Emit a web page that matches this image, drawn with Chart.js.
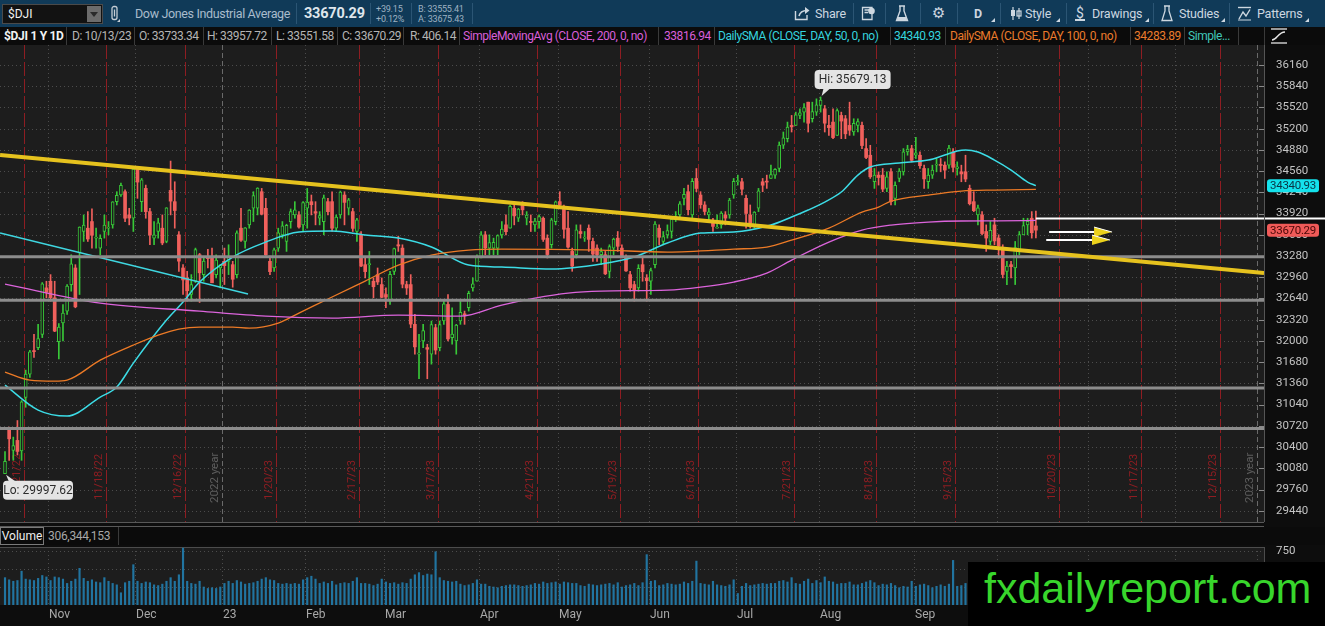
<!DOCTYPE html>
<html lang="en">
<head>
<meta charset="UTF-8">
<meta name="viewport" content="width=device-width, initial-scale=1.0">
<title>$DJI 1 Y 1D</title>
<script src="https://cdn.jsdelivr.net/npm/chart.js"></script>
<style>
    html, body { margin: 0; padding: 0; }
    body {
        width: 1325px; height: 626px; overflow: hidden; position: relative;
        background: #0d0d0d; font-family: Roboto, 'Noto Sans', sans-serif; color: #b4b4b4;
    }
    .abs { position: absolute; white-space: nowrap; }
    #toolbar { position: absolute; left: 0; top: 0; width: 1325px; height: 27px; background: #103a58; }
    #toolbar .tb { top: 0; line-height: 27px; font-size: 12.5px; color: #a9bccc; letter-spacing: -0.35px; }
    #toolbar .btn { top: 0; line-height: 27px; font-size: 12.5px; color: #cdd7e0; letter-spacing: -0.2px; }
    #toolbar .sm { font-size: 9px; line-height: 10px; color: #9fb2c2; letter-spacing: -0.2px; }
    .tsep { position: absolute; top: 3px; width: 1px; height: 21px; background: #2b5574; }
    .tri { position: absolute; width: 0; height: 0; border-left: 4px solid transparent; border-bottom: 4px solid #cdd7e0; }
    .sym { position: absolute; left: 2px; top: 4px; width: 99px; height: 18px; background: #121212; border: 1px solid #4a4a4a; }
    .sym span { position: absolute; left: 5px; top: 0; line-height: 18px; font-size: 12px; color: #f0f0f0; }
    .dd { position: absolute; left: 84px; top: 1px; width: 14px; height: 16px; background: #6c6c6c; }
    .ddt { position: absolute; left: 3px; top: 6px; width: 0; height: 0; border-left: 4px solid transparent; border-right: 4px solid transparent; border-top: 5px solid #2a2a2a; }
    #info { position: absolute; left: 0; top: 27px; width: 1325px; height: 18px; background: #0b0b0b;
            font-size: 12px; letter-spacing: -0.45px; line-height: 18px; }
    #info span { position: absolute; top: 0; white-space: nowrap; }
    .sep { position: absolute; top: 0; width: 1px; height: 18px; background: #3a3a3a; }
    #pwrap { position: absolute; left: 0; top: 45px; width: 1325px; height: 477px; }
    #vwrap { position: absolute; left: 0; top: 545px; width: 1325px; height: 81px; }
    .hl { position: absolute; left: 0; width: 1264px; height: 1px; background: #585858; }
    #vhead { position: absolute; left: 0; top: 527px; width: 1325px; height: 18px; background: #0b0b0b; font-size: 12px; line-height: 18px; }
    #mark { position: absolute; left: 968px; top: 562px; width: 357px; height: 64px; background: #000; }
    #mark span { position: absolute; left: 16px; top: 5px; font-family: 'Liberation Sans', Arial, sans-serif;
                 font-size: 43px; line-height: 43px; color: #38d62c; white-space: nowrap; }
</style>
</head>
<body>

<div id="toolbar">
    <div class="sym"><span>$DJI</span><div class="dd"><div class="ddt"></div></div></div>
    <svg class="abs" style="left:109px;top:5px" width="12" height="18" viewBox="0 0 12 18">
        <rect x="3" y="1.5" width="5" height="13" rx="2" fill="none" stroke="#c4ccd4" stroke-width="1.3"/>
        <line x1="5.5" y1="4.5" x2="5.5" y2="11.5" stroke="#c4ccd4" stroke-width="1.3"/>
        <path d="M8 17 l3 -3 v3z" fill="#c4ccd4"/>
    </svg>
    <span class="abs tb" style="left:135px">Dow Jones Industrial Average</span>
    <div class="tsep" style="left:296px"></div>
    <span class="abs" style="left:304px;top:0;line-height:27px;font-size:14.5px;font-weight:bold;color:#dfe6ec;letter-spacing:-0.2px">33670.29</span>
    <div class="tsep" style="left:370px"></div>
    <span class="abs sm" style="left:376px;top:4px">+39.15</span>
    <span class="abs sm" style="left:376px;top:14px">+0.12%</span>
    <div class="tsep" style="left:411px"></div>
    <span class="abs sm" style="left:418px;top:4px">B: 33555.41</span>
    <span class="abs sm" style="left:418px;top:14px">A: 33675.43</span>
    <div class="tsep" style="left:472px"></div>

    <svg class="abs" style="left:794px;top:6px" width="17" height="15" viewBox="0 0 17 15">
        <path d="M1.5 5 V13.5 H13 V9" fill="none" stroke="#cdd7e0" stroke-width="1.4"/>
        <path d="M5 10 C6 6 9 4.5 13 4.5" fill="none" stroke="#cdd7e0" stroke-width="1.6"/>
        <path d="M11 1 L15.5 4.5 L11 8z" fill="#cdd7e0"/>
    </svg>
    <span class="abs btn" style="left:815px">Share</span>
    <div class="tsep" style="left:853px"></div>
    <svg class="abs" style="left:861px;top:6px" width="15" height="15" viewBox="0 0 15 15">
        <path d="M1.5 1.5 H11 V13.5 H1.5z M3.5 4 H8 M3.5 6.5 H7" fill="none" stroke="#cdd7e0" stroke-width="1.3"/>
        <circle cx="10.5" cy="5" r="3.3" fill="#cdd7e0"/>
    </svg>
    <div class="tsep" style="left:885px"></div>
    <svg class="abs" style="left:895px;top:5px" width="14" height="17" viewBox="0 0 14 17">
        <path d="M5 1 V6 L1.5 15.5 H12.5 L9 6 V1 M4 1 H10" fill="none" stroke="#cdd7e0" stroke-width="1.4"/>
        <path d="M3 12 H11 L12 15 H2z" fill="#cdd7e0"/>
    </svg>
    <div class="tsep" style="left:920px"></div>
    <span class="abs" style="left:932px;top:0;line-height:27px;font-size:15px;color:#cdd7e0;font-family:'DejaVu Sans'">&#9881;</span>
    <div class="tsep" style="left:957px"></div>
    <span class="abs btn" style="left:974px;font-weight:bold">D</span>
    <div class="tri" style="left:991px;top:18px"></div>
    <div class="tsep" style="left:1000px"></div>
    <svg class="abs" style="left:1010px;top:6px" width="12" height="15" viewBox="0 0 12 15">
        <path d="M3 1 V14 M9 2 V13" stroke="#cdd7e0" stroke-width="1.2"/>
        <rect x="1" y="4" width="4" height="6" fill="#cdd7e0"/>
        <rect x="7" y="5" width="4" height="5" fill="none" stroke="#cdd7e0" stroke-width="1.2"/>
    </svg>
    <span class="abs btn" style="left:1025px">Style</span>
    <div class="tri" style="left:1056px;top:18px"></div>
    <div class="tsep" style="left:1066px"></div>
    <span class="abs btn" style="left:1076px;font-size:14px">$</span>
    <div class="abs" style="left:1075px;top:19px;width:10px;height:1.5px;background:#cdd7e0"></div>
    <span class="abs btn" style="left:1092px">Drawings</span>
    <div class="tri" style="left:1145px;top:18px"></div>
    <div class="tsep" style="left:1153px"></div>
    <svg class="abs" style="left:1161px;top:5px" width="12" height="17" viewBox="0 0 12 17">
        <path d="M4 1 V6 L1 15.5 H11 L8 6 V1 M3 1 H9" fill="none" stroke="#cdd7e0" stroke-width="1.3"/>
    </svg>
    <span class="abs btn" style="left:1179px">Studies</span>
    <div class="tri" style="left:1221px;top:18px"></div>
    <div class="tsep" style="left:1229px"></div>
    <svg class="abs" style="left:1237px;top:6px" width="15" height="15" viewBox="0 0 15 15">
        <path d="M1 1.5 H14" stroke="#cdd7e0" stroke-width="1.4"/>
        <path d="M2 13 L6 6 L9 10 L13 3.5" fill="none" stroke="#cdd7e0" stroke-width="1.4"/>
        <path d="M1 14 H14" stroke="#cdd7e0" stroke-width="1"/>
    </svg>
    <span class="abs btn" style="left:1257px">Patterns</span>
    <div class="tri" style="left:1305px;top:18px"></div>
</div>

<div id="info">
    <span style="left:4px;color:#f2f2f2;font-weight:bold;letter-spacing:-0.3px">$DJI 1 Y 1D</span>
    <div class="sep" style="left:66px"></div>
    <span style="left:72px">D: 10/13/23</span>
    <div class="sep" style="left:134px"></div>
    <span style="left:139px">O: 33733.34</span>
    <div class="sep" style="left:203px"></div>
    <span style="left:207px">H: 33957.72</span>
    <div class="sep" style="left:271px"></div>
    <span style="left:276px">L: 33551.58</span>
    <div class="sep" style="left:337px"></div>
    <span style="left:342px">C: 33670.29</span>
    <div class="sep" style="left:403px"></div>
    <span style="left:410px">R: 406.14</span>
    <div class="sep" style="left:459px"></div>
    <span style="left:463px;color:#d95fd9">SimpleMovingAvg (CLOSE, 200, 0, no)</span>
    <div class="sep" style="left:658px"></div>
    <span style="left:664px;color:#d95fd9">33816.94</span>
    <div class="sep" style="left:714px"></div>
    <span style="left:718px;color:#35d3df">DailySMA (CLOSE, DAY, 50, 0, no)</span>
    <div class="sep" style="left:890px"></div>
    <span style="left:894px;color:#35d3df">34340.93</span>
    <div class="sep" style="left:945px"></div>
    <span style="left:950px;color:#ea7b2c">DailySMA (CLOSE, DAY, 100, 0, no)</span>
    <div class="sep" style="left:1130px"></div>
    <span style="left:1134px;color:#ea7b2c">34283.89</span>
    <div class="sep" style="left:1184px"></div>
    <span style="left:1188px;color:#41c7b9">Simple...</span>
    <div class="sep" style="left:1238px"></div>
    <div class="sep" style="left:1264px"></div>
    <svg class="abs" style="left:1270px;top:1px" width="18" height="16" viewBox="0 0 18 16">
        <path d="M1 1 H17" stroke="#e6e6e6" stroke-width="1.3"/>
        <path d="M2 12 C7 12 8 4 15 4" fill="none" stroke="#e6e6e6" stroke-width="1.4"/>
        <path d="M1 15 H17" stroke="#e6e6e6" stroke-width="1.3"/>
    </svg>
</div>

<div id="pwrap"><canvas id="priceChart" width="1325" height="477"></canvas></div>
<div class="hl" style="top:522px"></div>
<div class="hl" style="top:526px"></div>
<div id="vhead">
    <span class="abs" style="left:0;top:0;width:42px;height:16px;border:1px solid #7a7a7a;line-height:16px;text-align:center;color:#eeeeee">Volume</span>
    <span class="abs" style="left:48px;top:0;color:#a8a8a8;letter-spacing:-0.3px">306,344,153</span>
    <div class="sep" style="left:118px"></div>
</div>
<div id="vwrap"><canvas id="volChart" width="1325" height="81"></canvas></div>
<div id="mark"><span>fxdailyreport.com</span></div>

<script>
    // Daily candles, $DJI, 10/17/22 .. 10/13/23
    const openP = [
        30000, 30680, 30350, 30500, 30340, 31150, 31500, 31850, 31900, 32100, 32800,
        32900, 32650, 31990, 32270, 32450, 32850, 33100, 33330, 33650, 33700, 33800, 33550, 33400, 33650, 33700, 33750, 34100, 34200, 34250, 33900, 33850,
        34600, 34100, 34300, 33950, 33550, 33650, 33700, 33500, 34270, 34100, 33600, 33100, 32950, 32700, 32900, 33300, 33000, 33250, 33270, 33000, 33100,
        33200, 33200, 33150, 33000, 33700, 33500, 33750, 34000, 34000, 34250, 34000, 33200, 33100, 33400, 33600, 33500, 33800, 33900, 33900, 33750,
        34000, 34100, 33950, 33850, 33800, 34100, 34100, 33700, 33900, 34200, 34000, 33950, 33650, 33600, 33150, 33150, 32900, 33000, 32850,
        32700, 32600, 33050, 33450, 33400, 32850, 32850, 32250, 31800, 32000, 31900, 31800, 32200, 31900, 32300, 32550, 32050, 32000, 32300, 32400, 32500, 32800, 32900,
        33250, 33600, 33400, 33400, 33400, 33600, 33750, 33700, 34000, 33850, 34050, 33850, 33800, 33750, 33800, 33850, 33550, 33450, 33800,
        34100, 34000, 33700, 33350, 33300, 33650, 33550, 33700, 33500, 33400, 33300, 33300, 33050, 33400, 33550, 33400, 33250, 33000, 32850, 32800, 33150, 32950,
        32900, 33150, 33700, 33500, 33600, 33650, 33850, 33900, 34150, 34250, 33900, 34450, 34200, 34050, 33900, 33800, 33700, 33750, 33900, 33900, 34200,
        34400, 34400, 34150, 33900, 33750, 34000, 34400, 34400, 34450, 34500, 34600, 34950, 35050, 35250, 35250, 35400, 35450, 35600, 35350, 35450,
        35550, 35500, 35250, 35300, 35100, 35400, 35350, 35250, 35150, 35250, 35250, 34900, 34800, 34400, 34500, 34500, 34300, 34550, 34150, 34450, 34550, 34850, 34900,
        34800, 34800, 34600, 34400, 34500, 34650, 34650, 34650, 34650, 34850, 34600, 34550, 34550, 34300, 34100, 33900, 33900, 33650, 33500, 33750,
        33550, 33400, 33050, 33150, 33100, 33350, 33600, 33750, 33850, 33733.34
    ];
    const highP = [
        30330, 30700, 30550, 30800, 31100, 31560, 31860, 32100, 32250, 32880, 32900,
        33000, 32900, 32260, 32550, 32850, 33300, 33150, 33720, 33900, 33950, 33990, 33700, 33600, 33900, 33800, 34100, 34250, 34380, 34280, 34000, 34600,
        34600, 34450, 34350, 34000, 33800, 33850, 33900, 34010, 34712, 34400, 33650, 33150, 33050, 33000, 33400, 33320, 33250, 33380, 33400, 33300, 33150,
        33400, 33450, 33200, 33660, 34000, 33710, 33980, 34250, 34310, 34300, 34150, 33280, 33400, 33700, 33800, 33760, 33990, 34100, 33950, 34100,
        34300, 34200, 34100, 33950, 34200, 34150, 34250, 33900, 34260, 34250, 34150, 34000, 33850, 33650, 33250, 33350, 32950, 33100, 32950,
        32800, 33050, 33400, 33580, 33450, 32900, 33000, 32400, 32100, 32250, 31950, 32300, 32250, 32300, 32600, 32700, 32500, 32250, 32600, 32450, 32750, 32950, 33300,
        33650, 33650, 33600, 33550, 33600, 33800, 33900, 34050, 34100, 34000, 34100, 33950, 33900, 33850, 33900, 33870, 33600, 33850, 34110,
        34250, 34050, 33950, 33400, 33750, 33750, 33650, 33750, 33550, 33450, 33400, 33350, 33450, 33550, 33650, 33450, 33300, 33050, 32900, 33150, 33250, 33000,
        33100, 33800, 33750, 33650, 33750, 33850, 33950, 34100, 34300, 34350, 34450, 34600, 34250, 34100, 34000, 33850, 33900, 33950, 33950, 34150, 34450,
        34500, 34450, 34200, 34050, 33950, 34300, 34450, 34500, 34650, 34600, 35000, 35150, 35300, 35400, 35450, 35500, 35580, 35600, 35600, 35650,
        35679.13, 35550, 35400, 35500, 35500, 35450, 35400, 35600, 35350, 35350, 35300, 35050, 34950, 34600, 34550, 34600, 34550, 34600, 34400, 34600, 34900, 34950, 34950,
        35070, 34850, 34650, 34600, 34650, 34750, 34750, 34700, 34950, 34900, 34700, 34650, 34800, 34350, 34250, 34050, 33950, 33750, 33800, 33850,
        33600, 33450, 33200, 33200, 33500, 33650, 33850, 33850, 33950, 33957.72
    ];
    const lowP = [
        29997.62, 30200, 30200, 30280, 30200, 31000, 31450, 31750, 31870, 32050, 32650,
        32600, 32140, 31730, 32000, 32400, 32750, 32500, 32700, 33500, 33500, 33400, 33400, 33300, 33550, 33600, 33700, 34050, 34180, 33800, 33750, 33650,
        34150, 33950, 33850, 33450, 33450, 33550, 33450, 33480, 33900, 33700, 33050, 32700, 32600, 32600, 32880, 32580, 32900, 33100, 32880, 32950, 32800,
        32850, 33000, 32810, 32950, 33500, 33400, 33700, 33800, 33900, 33900, 33290, 33000, 33050, 33350, 33550, 33350, 33700, 33850, 33700, 33650,
        33700, 33900, 33750, 33750, 33600, 33900, 33650, 33650, 33850, 33750, 33900, 33650, 33500, 33120, 32950, 32850, 32650, 32850, 32650,
        32500, 32550, 33000, 33350, 32800, 32700, 32200, 31800, 31430, 31900, 31430, 31650, 31800, 31850, 32250, 32000, 31950, 31800, 32250, 32250, 32450, 32750, 32900,
        33250, 33300, 33300, 33300, 33300, 33550, 33600, 33700, 33750, 33800, 33900, 33750, 33650, 33650, 33700, 33500, 33250, 33400, 33750,
        34000, 33550, 33400, 33050, 33250, 33550, 33500, 33350, 33200, 33200, 33150, 33000, 32950, 33300, 33350, 33250, 33050, 32750, 32600, 32750, 32900, 32600,
        32700, 33100, 33450, 33450, 33550, 33550, 33800, 33850, 34050, 33900, 33850, 34250, 34000, 33900, 33800, 33650, 33700, 33700, 33750, 33850, 34150,
        34350, 34200, 33700, 33700, 33700, 33950, 34250, 34300, 34450, 34450, 34550, 34900, 35000, 35150, 35250, 35350, 35300, 35150, 35300, 35400,
        35450, 35150, 35100, 35050, 35100, 35050, 35050, 35100, 35100, 35150, 34900, 34750, 34450, 34300, 34350, 34250, 34250, 34050, 34050, 34400, 34500, 34800, 34700,
        34750, 34600, 34300, 34300, 34450, 34550, 34550, 34450, 34600, 34550, 34500, 34400, 34400, 34050, 33950, 33750, 33600, 33350, 33450, 33450,
        33250, 32950, 32850, 32950, 32850, 33300, 33600, 33600, 33550, 33551.58
    ];
    const closeP = [
        30186, 30524, 30424, 30334, 31083, 31500, 31837, 31839, 32034, 32861, 32733,
        32653, 32148, 32210, 32420, 32827, 33161, 32514, 33716, 33748, 33537, 33593, 33554, 33547, 33746, 33700, 34098, 34195, 34347, 33850, 33853, 34590,
        34395, 34430, 33948, 33597, 33598, 33781, 33477, 34006, 34108, 33966, 33203, 32920, 32757, 32850, 33377, 33027, 33204, 33241, 32876, 33221, 33147,
        33136, 33270, 32930, 33631, 33518, 33704, 33974, 34190, 34303, 33911, 33297, 33045, 33375, 33630, 33734, 33744, 33950, 33978, 33717, 34086,
        34093, 34054, 33926, 33891, 34156, 33949, 33699, 33869, 34246, 34089, 34128, 33697, 33827, 33130, 33045, 33154, 32817, 32889, 32657,
        32662, 33004, 33391, 33432, 32856, 32798, 32254, 31910, 31819, 32155, 31875, 32247, 31862, 32245, 32560, 32030, 32105, 32238, 32432, 32394, 32717, 32860, 33274,
        33601, 33403, 33483, 33485, 33587, 33685, 33647, 34030, 33886, 33988, 33977, 33897, 33787, 33809, 33876, 33531, 33302, 33826, 34098,
        34052, 33684, 33415, 33128, 33674, 33619, 33562, 33531, 33309, 33301, 33349, 33012, 33421, 33536, 33427, 33286, 33056, 32800, 32765, 33093, 33043, 32908,
        33061, 33763, 33563, 33573, 33665, 33834, 33877, 34066, 34212, 33979, 34408, 34299, 34054, 33952, 33947, 33727, 33714, 33927, 33852, 34122, 34408,
        34418, 34288, 33922, 33735, 33944, 34262, 34348, 34395, 34509, 34586, 34952, 35061, 35225, 35228, 35411, 35438, 35520, 35282, 35459, 35560,
        35630, 35283, 35216, 35066, 35474, 35315, 35123, 35177, 35281, 35308, 34946, 34766, 34475, 34501, 34464, 34289, 34473, 34100, 34347, 34560, 34853, 34891, 34722,
        34838, 34642, 34443, 34501, 34577, 34664, 34646, 34576, 34907, 34618, 34625, 34518, 34441, 34070, 33964, 34007, 33619, 33551, 33667, 33508,
        33433, 33002, 33129, 33120, 33408, 33605, 33739, 33804, 33631, 33670.29
    ];
    // Volume, millions of shares
    const volume = [
        380, 350, 330, 340, 470, 360, 350, 340, 370, 410, 390,
        340, 390, 380, 360, 300, 330, 360, 510, 370, 330, 350, 320, 310, 380, 330, 300, 280, 170, 310, 330, 560,
        330, 300, 320, 310, 280, 270, 290, 330, 380, 330, 420, 790, 330, 300, 290, 330, 250, 230, 240, 230, 250,
        300, 330, 300, 340, 320, 290, 300, 310, 330, 360, 380, 350, 340, 300, 290, 300, 290, 300, 290, 350,
        380, 400, 360, 300, 320, 300, 330, 280, 300, 310, 300, 330, 380, 300, 300, 290, 270, 290, 360,
        320, 300, 310, 290, 310, 300, 360, 420, 450, 410, 430, 420, 740, 380, 340, 330, 320, 330, 290, 270, 280, 300, 350,
        290, 290, 260, 250, 240, 260, 270, 280, 280, 270, 260, 270, 280, 300, 290, 320, 300, 310, 320,
        290, 320, 310, 300, 300, 270, 260, 290, 280, 270, 280, 290, 300, 280, 310, 250, 270, 280, 300, 270, 310, 700,
        330, 340, 270, 280, 300, 290, 280, 290, 320, 300, 330, 610, 300, 290, 280, 330, 280, 270, 260, 280, 350,
        160, 260, 300, 270, 280, 290, 300, 290, 300, 300, 330, 340, 320, 380, 300, 290, 330, 360, 300, 340,
        310, 390, 330, 320, 290, 300, 300, 320, 280, 280, 300, 320, 340, 310, 270, 290, 280, 300, 270, 240, 260, 250, 330,
        260, 280, 290, 270, 240, 260, 280, 260, 290, 620, 260, 270, 300, 320, 280, 290, 320, 300, 290, 350,
        320, 340, 310, 280, 300, 270, 290, 280, 300, 306.34
    ];

    // Studies, sampled along the curves (bar index, value)
    const sma200X = [0, 23, 47, 63, 79, 95, 110, 120, 128, 136, 144, 160, 168, 176, 184, 190, 199, 207, 214, 223, 231, 240, 249];
    const sma200Y = [32858, 32571, 32450, 32375, 32345, 32390, 32375, 32541, 32646, 32722, 32752, 32767, 32812, 32888, 33023, 33219, 33491, 33672, 33747, 33792, 33808, 33810, 33816.94];
    const sma50X = [0, 8, 15, 23, 27, 31, 39, 43, 47, 55, 63, 71, 79, 87, 95, 103, 112, 120, 132, 144, 152, 160, 168, 176, 185, 190, 194, 198, 202, 206, 209, 216, 223, 227, 230, 232, 235, 239, 243, 247, 249];
    const sma50Y = [31334, 30957, 30867, 31153, 31304, 31666, 32315, 32586, 32888, 33265, 33491, 33642, 33657, 33596, 33551, 33416, 33144, 33114, 33084, 33159, 33265, 33476, 33627, 33642, 33747, 33868, 33974, 34094, 34245, 34501, 34622, 34682, 34727, 34803, 34863, 34878, 34848, 34727, 34577, 34396, 34340.93];
    const sma100X = [0, 6, 12, 15, 23, 31, 37, 42, 47, 55, 59, 66, 71, 79, 87, 95, 103, 112, 120, 144, 160, 176, 184, 190, 199, 207, 211, 214, 223, 231, 239, 249];
    const sma100Y = [31530, 31410, 31395, 31410, 31711, 31938, 32088, 32179, 32209, 32209, 32194, 32269, 32420, 32662, 32903, 33144, 33295, 33370, 33385, 33370, 33340, 33385, 33415, 33521, 33702, 33943, 34018, 34109, 34200, 34260, 34275, 34283.89];

    // Drawings (bar index / price)
    const trendX = [-1.2, 304.1];
    const trendY = [34803, 33024];
    const trend2X = [-1.2, 58.7];
    const trend2Y = [33627, 32707];
    const levels = [33270, 32615, 31290, 30680];
    const whiteLevel = 33845;
    const arrowY = [33642, 33521];
    const arrowFrom = [252.2, 251.5];
    const arrowTo = [267.4, 266.9];

    // Axis / calendar labels
    const priceTicks = [29440, 29760, 30080, 30400, 30720, 31040, 31360, 31680, 32000, 32320, 32640, 32960, 33280, 33600, 33920, 34240, 34560, 34880, 35200, 35520, 35840, 36160];
    const volTicks = [250, 500, 750];
    const monthNames = ['Nov', 'Dec', '23', 'Feb', 'Mar', 'Apr', 'May', 'Jun', 'Jul', 'Aug', 'Sep', 'Oct', 'Nov', 'Dec'];
    const monthIdx = [11, 32, 53, 73, 92, 115, 134, 156, 177, 197, 220, 240, 262, 283];
    const yearNames = ['2022 year', '2023 year'];
    const yearIdx = [53, 303];
    const expiryNames = ['10/21/22', '11/18/22', '12/16/22', '1/20/23', '2/17/23', '3/17/23', '4/21/23', '5/19/23', '6/16/23', '7/21/23', '8/18/23', '9/15/23', '10/20/23', '11/17/23', '12/15/23'];
    const expiryIdx = [4, 24, 43, 65, 85, 104, 128, 148, 167, 190, 210, 229, 254, 274, 293];

    const RED = '#f0605c', GREEN = '#38c838', PLOT_BG = '#1d1d1d', AXIS_BG = '#0d0d0d';
    const X_MIN = -1.21, X_MAX = 304.1;
    const FONT = "Roboto, 'Noto Sans', sans-serif";
    Chart.defaults.font.family = FONT;

    const idx = closeP.map((_, i) => i);
    const isUp = idx.map(i => closeP[i] >= openP[i]);
    const pts = (xs, ys) => xs.map((x, k) => ({ x: x, y: ys[k] }));

    function seg(ctx, x1, y1, x2, y2) {
        ctx.beginPath(); ctx.moveTo(x1, y1); ctx.lineTo(x2, y2); ctx.stroke();
    }
    function roundBox(ctx, x, y, w, h, r, fill) {
        ctx.beginPath(); ctx.roundRect(x, y, w, h, r); ctx.fillStyle = fill; ctx.fill();
    }
    function xAxis() {
        return { type: 'linear', min: X_MIN, max: X_MAX, offset: false, display: false };
    }
    function rightAxis(min, max, ticks) {
        return {
            position: 'right', min: min, max: max,
            grid: { display: false }, border: { display: false },
            afterBuildTicks: s => { s.ticks = ticks.map(v => ({ value: v })); },
            afterFit: s => { s.width = 61; s.paddingTop = 0; s.paddingBottom = 0; },
            ticks: { color: '#c4c4c4', font: { size: 11.5 }, padding: 4, autoSkip: false, callback: v => String(v) }
        };
    }

    const pricePanel = {
        id: 'pricePanel',
        beforeDraw(chart) {
            const { ctx, chartArea: a, width, height } = chart;
            ctx.save();
            ctx.fillStyle = AXIS_BG; ctx.fillRect(0, 0, width, height);
            ctx.fillStyle = PLOT_BG; ctx.fillRect(a.left, a.top, a.right - a.left, a.bottom - a.top);
            ctx.restore();
        },
        beforeDatasetsDraw(chart) {
            const { ctx, chartArea: a, scales: { x, y } } = chart;
            const px = v => Math.round(x.getPixelForValue(v)) + 0.5;
            ctx.save();
            ctx.beginPath(); ctx.rect(a.left, a.top, a.right - a.left, a.bottom - a.top); ctx.clip();
            ctx.lineWidth = 1;
            ctx.strokeStyle = '#4c4c4c'; ctx.setLineDash([1, 3]);
            priceTicks.forEach(v => { const py = Math.round(y.getPixelForValue(v)) + 0.5; seg(ctx, a.left, py, a.right, py); });
            monthIdx.forEach(m => { if (!yearIdx.includes(m)) seg(ctx, px(m - 0.5), a.top, px(m - 0.5), a.bottom); });
            ctx.strokeStyle = '#6a6a6a'; ctx.setLineDash([5, 3]);
            yearIdx.forEach(m => seg(ctx, px(m - 0.5), a.top, px(m - 0.5), a.bottom));
            ctx.strokeStyle = '#8e1d22'; ctx.setLineDash([14, 3]);
            expiryIdx.forEach(m => seg(ctx, px(m + 0.5), a.top, px(m + 0.5), a.bottom));
            ctx.setLineDash([]);
            ctx.font = '11px ' + FONT; ctx.textAlign = 'left'; ctx.textBaseline = 'bottom';
            const labelUp = (text, lx, color) => {
                ctx.save(); ctx.translate(lx, 455); ctx.rotate(-Math.PI / 2);
                ctx.fillStyle = color; ctx.fillText(text, 0, 0); ctx.restore();
            };
            expiryIdx.forEach((m, k) => labelUp(expiryNames[k], px(m + 0.5) - 2, '#8e1d22'));
            ctx.font = '11.5px ' + FONT;
            yearIdx.forEach((m, k) => {
                ctx.save(); ctx.translate(px(m - 0.5) - 2, 458); ctx.rotate(-Math.PI / 2);
                ctx.fillStyle = '#5e5e5e'; ctx.fillText(yearNames[k], 0, 0); ctx.restore();
            });
            ctx.restore();
        },
        afterDatasetsDraw(chart) {
            const { ctx, scales: { x, y } } = chart;
            ctx.save();
            // arrows
            arrowY.forEach((v, k) => {
                const py = y.getPixelForValue(v), x0 = x.getPixelForValue(arrowFrom[k]), x1 = x.getPixelForValue(arrowTo[k]);
                ctx.strokeStyle = '#ffffff'; ctx.lineWidth = 2;
                seg(ctx, x0, py, x1 - 16, py);
                ctx.beginPath(); ctx.moveTo(x1, py); ctx.lineTo(x1 - 18, py - 5); ctx.lineTo(x1 - 18, py + 5); ctx.closePath();
                ctx.fillStyle = '#ecd21c'; ctx.fill();
                ctx.strokeStyle = '#ffffff'; ctx.lineWidth = 1; seg(ctx, x1 - 18, py - 5, x1, py);
            });
            // Hi / Lo markers
            let hi = 0, lo = 0;
            idx.forEach(i => { if (highP[i] > highP[hi]) hi = i; if (lowP[i] < lowP[lo]) lo = i; });
            ctx.font = '12px ' + FONT; ctx.textAlign = 'center'; ctx.textBaseline = 'middle';
            let cx = x.getPixelForValue(hi), cy = y.getPixelForValue(highP[hi]);
            roundBox(ctx, cx - 6, cy - 27, 76, 19, 4, '#e4e4e4');
            ctx.beginPath(); ctx.moveTo(cx + 1, cy - 1); ctx.lineTo(cx + 3, cy - 9); ctx.lineTo(cx + 10, cy - 9); ctx.closePath(); ctx.fill();
            ctx.fillStyle = '#2c2c2c'; ctx.fillText('Hi: ' + highP[hi].toFixed(2), cx + 32, cy - 17);
            cx = x.getPixelForValue(lo); cy = y.getPixelForValue(lowP[lo]);
            roundBox(ctx, cx - 2, cy + 7, 70, 19, 4, '#e4e4e4');
            ctx.beginPath(); ctx.moveTo(cx + 1, cy + 1); ctx.lineTo(cx + 4, cy + 8); ctx.lineTo(cx + 11, cy + 8); ctx.closePath(); ctx.fill();
            ctx.fillStyle = '#2c2c2c'; ctx.fillText('Lo: ' + lowP[lo].toFixed(2), cx + 33, cy + 17);
            ctx.restore();
        },
        afterDraw(chart) {
            const { ctx, chartArea: a, scales: { y } } = chart;
            ctx.save();
            ctx.strokeStyle = '#8a8a8a'; ctx.lineWidth = 1;
            priceTicks.forEach(v => { const py = Math.round(y.getPixelForValue(v)) + 0.5; seg(ctx, a.right - 5, py, a.right, py); });
            ctx.strokeStyle = '#555555'; seg(ctx, a.right + 0.5, a.top, a.right + 0.5, a.bottom);
            ctx.font = '11.5px ' + FONT; ctx.textAlign = 'center'; ctx.textBaseline = 'middle';
            ctx.letterSpacing = '-0.3px';
            const tag = (v, bg, fg) => {
                const py = y.getPixelForValue(v);
                roundBox(ctx, a.right + 3, py - 6.5, 52, 13, 3, bg);
                ctx.fillStyle = fg; ctx.fillText(v.toFixed(2), a.right + 29, py + 0.5);
            };
            tag(sma50Y[sma50Y.length - 1], '#14e2ec', '#0a3444');
            tag(closeP[closeP.length - 1], '#f05a58', '#4a0808');
            ctx.restore();
        }
    };

    new Chart(document.getElementById('priceChart'), {
        type: 'bar',
        data: {
            datasets: [
                { type: 'line', data: pts(trendX, trendY), borderColor: '#e6c21e', borderWidth: 4, pointRadius: 0, order: -3 },
                { type: 'line', data: [{ x: 249, y: whiteLevel }, { x: 320, y: whiteLevel }], borderColor: '#ffffff', borderWidth: 2, pointRadius: 0, clip: false, order: -3 },
                ...levels.map(v => ({ type: 'line', data: [{ x: X_MIN, y: v }, { x: X_MAX, y: v }], borderColor: '#8c8c8c', borderWidth: 3, pointRadius: 0, order: -2 })),
                { type: 'line', data: pts(trend2X, trend2Y), borderColor: '#3fd6e0', borderWidth: 1.5, pointRadius: 0, order: -1 },
                { type: 'line', data: pts(sma200X, sma200Y), borderColor: '#dc64dc', borderWidth: 1.3, pointRadius: 0, cubicInterpolationMode: 'monotone', order: 0 },
                { type: 'line', data: pts(sma100X, sma100Y), borderColor: '#ec7a26', borderWidth: 1.3, pointRadius: 0, cubicInterpolationMode: 'monotone', order: 0 },
                { type: 'line', data: pts(sma50X, sma50Y), borderColor: '#3cdce6', borderWidth: 1.5, pointRadius: 0, cubicInterpolationMode: 'monotone', order: 0 },
                {
                    type: 'bar', data: idx.map(i => ({ x: i, y: [openP[i], closeP[i]] })),
                    backgroundColor: idx.map(i => isUp[i] ? PLOT_BG : RED),
                    borderColor: idx.map(i => isUp[i] ? GREEN : RED),
                    borderWidth: idx.map(i => isUp[i] ? 1 : 0),
                    borderSkipped: false, barThickness: 3, minBarLength: 1, grouped: false, order: 1
                },
                {
                    type: 'bar', data: idx.map(i => ({ x: i, y: [lowP[i], highP[i]] })),
                    backgroundColor: idx.map(i => isUp[i] ? GREEN : RED),
                    borderWidth: 0, barThickness: 1, grouped: false, order: 2
                }
            ]
        },
        options: {
            responsive: false, animation: false, events: [],
            layout: { padding: 0 },
            plugins: { legend: { display: false }, tooltip: { enabled: false } },
            scales: { x: xAxis(), y: rightAxis(29270, 36462, priceTicks) }
        },
        plugins: [pricePanel]
    });

    const volPanel = {
        id: 'volPanel',
        beforeDraw(chart) {
            const { ctx, chartArea: a, width, height } = chart;
            ctx.save();
            ctx.fillStyle = AXIS_BG; ctx.fillRect(0, 0, width, height);
            ctx.fillStyle = PLOT_BG; ctx.fillRect(a.left, a.top, a.right - a.left, a.bottom - a.top);
            ctx.restore();
        },
        beforeDatasetsDraw(chart) {
            const { ctx, chartArea: a, scales: { x, y } } = chart;
            ctx.save();
            ctx.lineWidth = 1;
            ctx.strokeStyle = '#4c4c4c'; seg(ctx, a.left, a.top + 0.5, a.right, a.top + 0.5);
            seg(ctx, a.right + 0.5, a.top, a.right + 0.5, a.bottom);
            ctx.setLineDash([1, 3]);
            volTicks.forEach(v => { const py = Math.round(y.getPixelForValue(v)) + 0.5; seg(ctx, a.left, py, a.right, py); });
            monthIdx.concat(yearIdx.slice(1)).forEach(m => {
                const px = Math.round(x.getPixelForValue(m - 0.5)) + 0.5; seg(ctx, px, a.top, px, a.bottom);
            });
            ctx.restore();
        },
        afterDraw(chart) {
            const { ctx, chartArea: a, scales: { x } } = chart;
            ctx.save();
            ctx.font = '12px ' + FONT; ctx.fillStyle = '#a8a8a8'; ctx.textAlign = 'left'; ctx.textBaseline = 'middle';
            monthIdx.forEach((m, k) => ctx.fillText(monthNames[k], Math.round(x.getPixelForValue(m - 0.5)) + 1, a.bottom + 10));
            ctx.restore();
        }
    };

    new Chart(document.getElementById('volChart'), {
        type: 'bar',
        data: {
            datasets: [{
                data: idx.map(i => ({ x: i, y: volume[i] })),
                backgroundColor: '#2174a0', borderWidth: 0, barThickness: 1.5, grouped: false
            }]
        },
        options: {
            responsive: false, animation: false, events: [],
            layout: { padding: { top: 2, bottom: 21, left: 0, right: 0 } },
            plugins: { legend: { display: false }, tooltip: { enabled: false } },
            scales: { x: xAxis(), y: rightAxis(0, 806, [750]) }
        },
        plugins: [volPanel]
    });
</script>

</body>
</html>
